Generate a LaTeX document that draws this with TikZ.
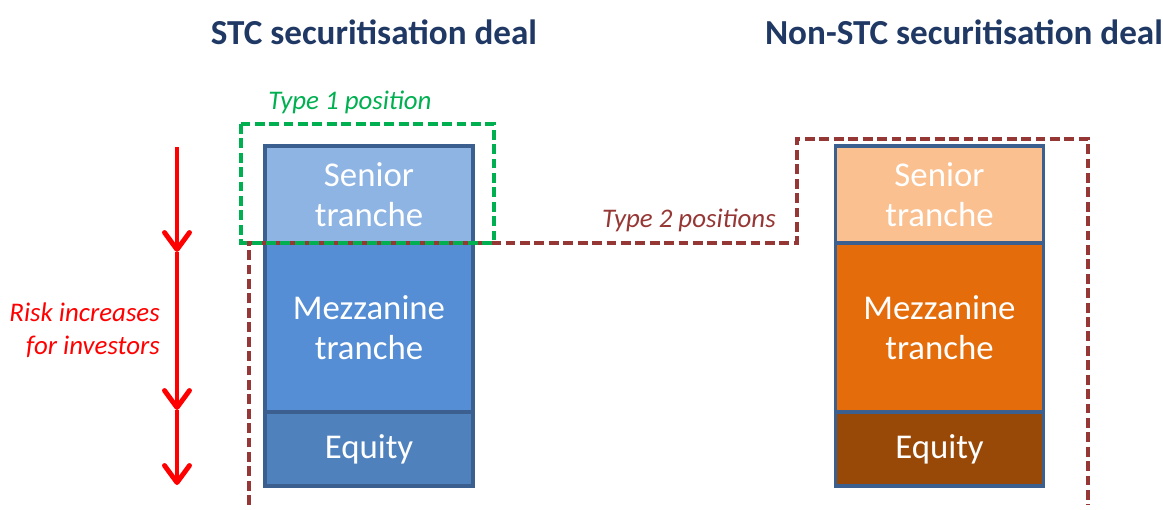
\documentclass[tikz,border=0pt]{standalone}
\usepackage{fontspec}
\setmainfont{Carlito}
\usetikzlibrary{positioning,arrows.meta}

\definecolor{titleblue}{HTML}{1F3864}
\definecolor{edgeblue}{HTML}{3B5F8F}
\definecolor{seniorblue}{HTML}{8EB4E3}
\definecolor{mezzblue}{HTML}{558ED5}
\definecolor{equityblue}{HTML}{4F81BD}
\definecolor{seniororange}{HTML}{FAC090}
\definecolor{mezzorange}{HTML}{E46C0A}
\definecolor{equityorange}{HTML}{984807}
\definecolor{typeonegreen}{HTML}{00B050}
\definecolor{typetwored}{HTML}{953735}

\begin{document}
\begin{tikzpicture}[x=0.02cm, y=-0.02cm,
        tranche/.style = {draw=edgeblue, line width=2pt, rectangle, outer sep=0pt,
            minimum width=4.16cm, text=white, align=center,
            font=\fontsize{19.8}{23}\selectfont},
        heading/.style = {text=titleblue, font=\fontsize{20}{24}\selectfont\bfseries},
        caption/.style = {font=\fontsize{15.3}{18.5}\selectfont\itshape},
        frame/.style = {line width=2.2pt, dash pattern=on 5.6pt off 2.6pt},
        riskarrow/.style = {red, line width=2.8pt,
            -{Straight Barb[length=0.34cm, width=0.5cm, line width=2.8pt, round]}}]
    \useasboundingbox (0,0) rectangle (1163,510);

    % STC deal
    \node[heading] (stc) at (374,32) {STC securitisation deal};
    \node[tranche,fill=seniorblue,minimum height=1.94cm] (sl) at (369,194.5) {Senior\\tranche};
    \node[tranche,fill=mezzblue,minimum height=3.38cm,below=0pt of sl] (ml) {Mezzanine\\tranche};
    \node[tranche,fill=equityblue,minimum height=1.48cm,below=0pt of ml] (el) {Equity};

    % Non-STC deal
    \node[heading] (nstc) at (964,32) {Non-STC securitisation deal};
    \node[tranche,fill=seniororange,minimum height=1.94cm] (sr) at (939.5,194.5) {Senior\\tranche};
    \node[tranche,fill=mezzorange,minimum height=3.38cm,below=0pt of sr] (mr) {Mezzanine\\tranche};
    \node[tranche,fill=equityorange,minimum height=1.48cm,below=0pt of mr] (er) {Equity};

    % Type 2 positions
    \draw[frame,typetwored] (249,505) -- (249,243) -- (797,243) -- (797,139) -- (1088,139) -- (1088,505);
    \node[caption,typetwored,anchor=east] (t2) at (782,220) {Type 2 positions};

    % Type 1 position
    \draw[frame,typeonegreen] (241,124) rectangle (494,243);
    \node[caption,typeonegreen] (t1) at (350,102) {Type 1 position};

    % risk
    \coordinate (r0) at (177,147);
    \coordinate (r1) at (177,252);
    \coordinate (r2) at (177,410);
    \coordinate (r3) at (177,485);
    \draw[riskarrow] (r0) -- (r1);
    \draw[riskarrow] (r1) -- (r2);
    \draw[riskarrow] (r2) -- (r3);
    \node[caption,red,anchor=east,align=right] (risk) at (166,330) {Risk increases\\for investors};
\end{tikzpicture}
\end{document}
